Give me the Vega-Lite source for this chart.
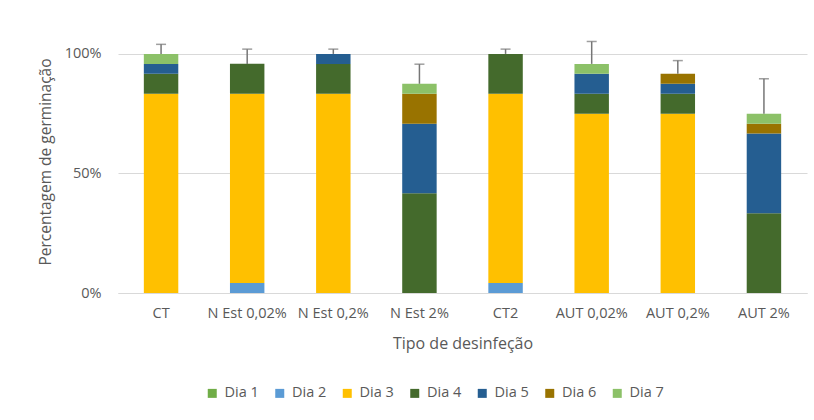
{
  "$schema": "https://vega.github.io/schema/vega-lite/v6.json",
  "width": 689,
  "height": 263,
  "autosize": "none",
  "padding": {"left": 118, "top": 30, "right": 7, "bottom": 127},
  "background": "white",
  "config": {
    "font": "Open Sans",
    "view": {"stroke": null},
    "axis": {"labelColor": "#595959", "titleColor": "#595959", "labelFont": "Open Sans", "titleFont": "Open Sans", "titleFontWeight": "normal"}
  },
  "datasets": {
    "bars": [
      {"cat": "CT", "dia": "Dia 3", "o": 3, "v": 0.8333},
      {"cat": "CT", "dia": "Dia 4", "o": 4, "v": 0.0833},
      {"cat": "CT", "dia": "Dia 5", "o": 5, "v": 0.0417},
      {"cat": "CT", "dia": "Dia 7", "o": 7, "v": 0.0417},
      {"cat": "N Est 0,02%", "dia": "Dia 2", "o": 2, "v": 0.0417},
      {"cat": "N Est 0,02%", "dia": "Dia 3", "o": 3, "v": 0.7917},
      {"cat": "N Est 0,02%", "dia": "Dia 4", "o": 4, "v": 0.125},
      {"cat": "N Est 0,2%", "dia": "Dia 3", "o": 3, "v": 0.8333},
      {"cat": "N Est 0,2%", "dia": "Dia 4", "o": 4, "v": 0.125},
      {"cat": "N Est 0,2%", "dia": "Dia 5", "o": 5, "v": 0.0417},
      {"cat": "N Est 2%", "dia": "Dia 4", "o": 4, "v": 0.4167},
      {"cat": "N Est 2%", "dia": "Dia 5", "o": 5, "v": 0.2917},
      {"cat": "N Est 2%", "dia": "Dia 6", "o": 6, "v": 0.125},
      {"cat": "N Est 2%", "dia": "Dia 7", "o": 7, "v": 0.0417},
      {"cat": "CT2", "dia": "Dia 2", "o": 2, "v": 0.0417},
      {"cat": "CT2", "dia": "Dia 3", "o": 3, "v": 0.7917},
      {"cat": "CT2", "dia": "Dia 4", "o": 4, "v": 0.1667},
      {"cat": "AUT 0,02%", "dia": "Dia 3", "o": 3, "v": 0.75},
      {"cat": "AUT 0,02%", "dia": "Dia 4", "o": 4, "v": 0.0833},
      {"cat": "AUT 0,02%", "dia": "Dia 5", "o": 5, "v": 0.0833},
      {"cat": "AUT 0,02%", "dia": "Dia 7", "o": 7, "v": 0.0417},
      {"cat": "AUT 0,2%", "dia": "Dia 3", "o": 3, "v": 0.75},
      {"cat": "AUT 0,2%", "dia": "Dia 4", "o": 4, "v": 0.0833},
      {"cat": "AUT 0,2%", "dia": "Dia 5", "o": 5, "v": 0.0417},
      {"cat": "AUT 0,2%", "dia": "Dia 6", "o": 6, "v": 0.0417},
      {"cat": "AUT 2%", "dia": "Dia 4", "o": 4, "v": 0.3333},
      {"cat": "AUT 2%", "dia": "Dia 5", "o": 5, "v": 0.3333},
      {"cat": "AUT 2%", "dia": "Dia 6", "o": 6, "v": 0.0417},
      {"cat": "AUT 2%", "dia": "Dia 7", "o": 7, "v": 0.0417}
    ],
    "errs": [
      {"cat": "CT", "top": 1.0, "hi": 1.04},
      {"cat": "N Est 0,02%", "top": 0.9583, "hi": 1.02},
      {"cat": "N Est 0,2%", "top": 1.0, "hi": 1.02},
      {"cat": "N Est 2%", "top": 0.875, "hi": 0.957},
      {"cat": "CT2", "top": 1.0, "hi": 1.02},
      {"cat": "AUT 0,02%", "top": 0.9583, "hi": 1.052},
      {"cat": "AUT 0,2%", "top": 0.9167, "hi": 0.972},
      {"cat": "AUT 2%", "top": 0.75, "hi": 0.896}
    ]
  },
  "encoding": {
    "x": {
      "field": "cat", "type": "nominal",
      "sort": ["CT", "N Est 0,02%", "N Est 0,2%", "N Est 2%", "CT2", "AUT 0,02%", "AUT 0,2%", "AUT 2%"],
      "scale": {"paddingInner": 0.6, "paddingOuter": 0.3},
      "axis": {
        "title": "Tipo de desinfeção", "labelAngle": 0, "labelFontSize": 14.5, "labelPadding": 13,
        "ticks": false, "domainColor": "#D9D9D9", "domainWidth": 1,
        "titleFontSize": 16, "titleX": 344.5, "titleY": 50, "titleBaseline": "middle", "titleAnchor": null
      }
    }
  },
  "layer": [
    {
      "data": {"name": "bars"},
      "mark": {"type": "bar"},
      "encoding": {
        "y": {
          "field": "v", "type": "quantitative", "stack": "zero",
          "scale": {"domain": [0, 1.1], "nice": false},
          "axis": {
            "title": "Percentagem de germinação", "values": [0, 0.5, 1], "format": ".0%",
            "labelFontSize": 14.5, "labelPadding": 17, "ticks": false, "domain": false,
            "gridColor": "#D9D9D9", "gridWidth": 1,
            "titleFontSize": 15.5, "titleX": -73, "titleY": 131.5, "titleAngle": -90, "titleAlign": "center", "titleBaseline": "middle"
          }
        },
        "color": {
          "field": "dia", "type": "nominal",
          "scale": {
            "domain": ["Dia 1", "Dia 2", "Dia 3", "Dia 4", "Dia 5", "Dia 6", "Dia 7"],
            "range": ["#70AD47", "#5B9BD5", "#FFC000", "#446A2C", "#255E91", "#997300", "#8CC168"]
          },
          "legend": {
            "title": null, "orient": "none", "direction": "horizontal", "legendX": 87, "legendY": 356,
            "symbolType": "square", "symbolSize": 81, "symbolStrokeWidth": 0, "labelFontSize": 14.5, "labelColor": "#595959",
            "labelFont": "Open Sans", "columnPadding": 13.5, "labelOffset": 5, "padding": 0
          }
        },
        "order": {"field": "o", "type": "quantitative"}
      }
    },
    {
      "data": {"name": "errs"},
      "mark": {"type": "rule", "color": "#767676", "strokeWidth": 1.5},
      "encoding": {
        "y": {"field": "top", "type": "quantitative"},
        "y2": {"field": "hi"}
      }
    },
    {
      "data": {"name": "errs"},
      "mark": {"type": "tick", "color": "#767676", "thickness": 1.5, "size": 10},
      "encoding": {
        "y": {"field": "hi", "type": "quantitative"}
      }
    }
  ]
}
